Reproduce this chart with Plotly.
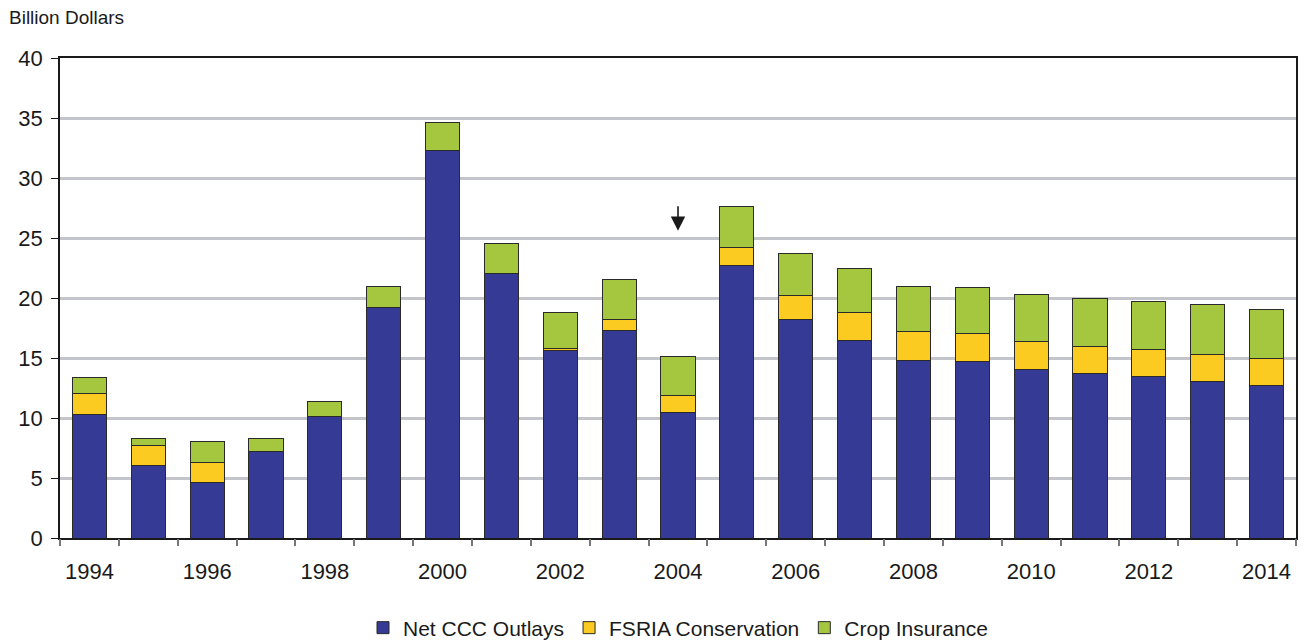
import plotly.graph_objects as go

years = list(range(1994, 2015))
net_ccc = [10.33, 6.03, 4.66, 7.25, 10.15, 19.25, 32.27, 22.06, 15.64, 17.33, 10.5,
           22.67, 18.2, 16.44, 14.78, 14.67, 14.03, 13.69, 13.42, 13.06, 12.67]
fsria = [1.73, 1.7, 1.64, 0.0, 0.0, 0.0, 0.0, 0.0, 0.19, 0.89, 1.39,
         1.58, 2.0, 2.39, 2.41, 2.41, 2.36, 2.31, 2.25, 2.25, 2.25]
crop_ins = [1.34, 0.57, 1.76, 1.02, 1.25, 1.68, 2.36, 2.47, 3.0, 3.31, 3.22,
            3.36, 3.5, 3.61, 3.75, 3.81, 3.89, 3.97, 4.05, 4.11, 4.16]
tick_years = list(range(1994, 2015, 2))
y_ticks = list(range(0, 41, 5))

font_family = "Liberation Sans, Arial, sans-serif"
outline = dict(color="#2a2a2a", width=1)

fig = go.Figure()
fig.add_trace(go.Bar(x=years, y=net_ccc, name="Net CCC Outlays",
                     marker=dict(color="#353b95", line=outline)))
fig.add_trace(go.Bar(x=years, y=fsria, name="FSRIA Conservation",
                     marker=dict(color="#fccb22", line=outline)))
fig.add_trace(go.Bar(x=years, y=crop_ins, name="Crop Insurance",
                     marker=dict(color="#a5c73f", line=outline)))

# invisible trace to activate the secondary x axis carrying boundary ticks
fig.add_trace(go.Scatter(x=[1994], y=[0], xaxis="x2", mode="markers",
                         marker=dict(opacity=0), showlegend=False, hoverinfo="skip"))

fig.update_layout(
    barmode="stack",
    bargap=0.42,
    width=1305, height=641,
    margin=dict(l=60, r=9, t=58, b=103, autoexpand=False),
    plot_bgcolor="white", paper_bgcolor="white",
    font=dict(family=font_family, size=21, color="#1a1a1a"),
    xaxis=dict(range=[1993.5, 2014.5], tickvals=tick_years,
               ticktext=[str(y) for y in tick_years], ticks="",
               ticklabelstandoff=13,
               showgrid=False, zeroline=False, showline=True,
               linecolor="#1a1a1a", linewidth=1.5, mirror=True,
               tickfont=dict(size=22)),
    xaxis2=dict(range=[1993.5, 2014.5], overlaying="x", side="bottom",
                tickvals=[y + 0.5 for y in range(1993, 2015)],
                ticks="outside", ticklen=7, tickcolor="#777777", tickwidth=1.5,
                showticklabels=False, showgrid=False, zeroline=False,
                showline=False),
    yaxis=dict(range=[0, 40], tickvals=y_ticks, ticks="outside", ticklen=7,
               tickcolor="#1a1a1a", showgrid=True, gridcolor="#c3c5cb",
               gridwidth=2.5, zeroline=False, showline=True,
               linecolor="#1a1a1a", linewidth=1.5, mirror=True,
               ticklabelstandoff=4,
               tickfont=dict(size=22)),
    legend=dict(orientation="h", x=0.5, xanchor="center", y=-0.1875,
                yanchor="middle", font=dict(size=21), traceorder="normal",
                itemwidth=30),
    showlegend=True,
)

fig.add_annotation(xref="paper", yref="paper", x=-0.043, y=1.085,
                   xanchor="left", yanchor="middle", showarrow=False,
                   text="Billion Dollars", font=dict(size=19))

fig.add_annotation(x=2004, y=25.6, ax=0, ay=-26, showarrow=True,
                   arrowhead=2, arrowsize=1.8, arrowwidth=1.6,
                   arrowcolor="#1a1a1a", text="")

fig.write_html("out.html")
